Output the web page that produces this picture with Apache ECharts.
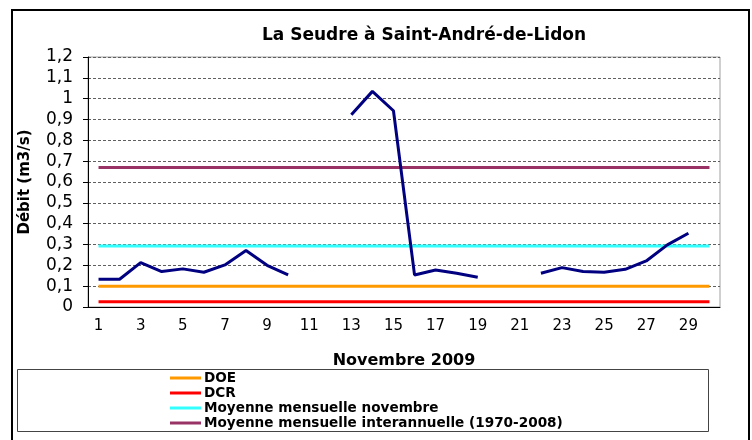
<!DOCTYPE html>
<html>
<head>
<meta charset="utf-8">
<script src="https://cdn.jsdelivr.net/npm/echarts@6/dist/echarts.min.js"></script>
<style>
  html, body { margin: 0; padding: 0; background: #fff; }
  #chart { width: 752px; height: 440px; }
</style>
</head>
<body>
<div id="chart"></div>
<script>
// jours de novembre 2009
var days = [];
for (var d = 1; d <= 30; d++) days.push(String(d));

// débit journalier (m3/s), null = pas de mesure
var debit = [0.133, 0.133, 0.213, 0.170, 0.183, 0.167, 0.202, 0.271, 0.200, 0.154,
             null, null, 0.923, 1.035, 0.942, 0.154, 0.178, 0.162, 0.143, null,
             null, 0.162, 0.189, 0.170, 0.167, 0.181, 0.221, 0.298, 0.354, null];

// seuils de référence
var doe = 0.1;
var dcr = 0.025;
var moyNov = 0.293;
var moyInter = 0.67;

function flat(v) {
  return days.map(function () { return v; });
}

var chart = echarts.init(document.getElementById('chart'));

var option = {
  animation: false,
  backgroundColor: '#fff',
  textStyle: { fontFamily: 'DejaVu Sans, Verdana, sans-serif' },
  title: {
    text: 'La Seudre à Saint-André-de-Lidon',
    left: 257,
    top: 22,
    textStyle: { fontSize: 17, fontWeight: 'bold', color: '#000', fontFamily: 'DejaVu Sans' }
  },
  graphic: [
    { // cadre extérieur
      type: 'rect', z: -10,
      shape: { x: 12, y: 10, width: 737, height: 450 },
      style: { fill: '#fff', stroke: '#000', lineWidth: 2 }
    },
    { // cadre de la légende
      type: 'rect', z: -5,
      shape: { x: 17.5, y: 369.5, width: 691, height: 62 },
      style: { fill: '#fff', stroke: '#444', lineWidth: 1 }
    }
  ],
  legend: {
    orient: 'vertical',
    left: 165,
    top: 366,
    itemGap: 1,
    itemWidth: 31,
    itemHeight: 3,
    icon: 'rect',
    data: ['DOE', 'DCR', 'Moyenne mensuelle novembre', 'Moyenne mensuelle interannuelle (1970-2008)'],
    textStyle: { fontSize: 13.6, fontWeight: 'bold', color: '#000', lineHeight: 14, padding: [0, 0, 0, -2], fontFamily: 'DejaVu Sans' }
  },
  grid: {
    left: 88, top: 57, right: 32, bottom: 133,
    show: true, borderColor: '#a0a0a0', borderWidth: 1
  },
  xAxis: {
    type: 'category',
    data: days,
    boundaryGap: true,
    name: 'Novembre 2009',
    nameLocation: 'middle',
    nameGap: 46,
    nameTextStyle: { fontSize: 16, fontWeight: 'bold', color: '#000', fontFamily: 'DejaVu Sans' },
    axisLine: { lineStyle: { color: '#000', width: 1 } },
    axisTick: { interval: 0, length: 5, lineStyle: { color: '#000' } },
    axisLabel: { interval: 1, fontSize: 15, color: '#000', margin: 12, fontFamily: 'DejaVu Sans' },
    splitLine: { show: false }
  },
  yAxis: {
    type: 'value',
    min: 0,
    max: 1.2,
    interval: 0.1,
    name: 'Débit (m3/s)',
    nameLocation: 'middle',
    nameGap: 55,
    nameTextStyle: { fontSize: 15, fontWeight: 'bold', color: '#000', fontFamily: 'DejaVu Sans' },
    axisLine: { show: true, lineStyle: { color: '#000', width: 1 } },
    axisTick: { show: true, length: 5, lineStyle: { color: '#000' } },
    axisLabel: {
      fontSize: 17, color: '#000', margin: 15, fontFamily: 'DejaVu Sans',
      formatter: function (v) { return String(+v.toFixed(1)).replace('.', ','); }
    },
    splitLine: { show: true, lineStyle: { color: '#606060', type: [3, 2], width: 1 } }
  },
  series: [
    {
      name: 'DCR', type: 'line', data: flat(dcr), symbol: 'none',
      lineStyle: { color: '#ff0000', width: 3 }, itemStyle: { color: '#ff0000' }
    },
    {
      name: 'DOE', type: 'line', data: flat(doe), symbol: 'none',
      lineStyle: { color: '#ff9900', width: 3 }, itemStyle: { color: '#ff9900' }
    },
    {
      name: 'Moyenne mensuelle novembre', type: 'line', data: flat(moyNov), symbol: 'none',
      lineStyle: { color: '#33ffff', width: 3 }, itemStyle: { color: '#33ffff' }
    },
    {
      name: 'Moyenne mensuelle interannuelle (1970-2008)', type: 'line', data: flat(moyInter), symbol: 'none',
      lineStyle: { color: '#993366', width: 3 }, itemStyle: { color: '#993366' }
    },
    {
      name: 'Débit', type: 'line', data: debit, symbol: 'none', connectNulls: false,
      lineStyle: { color: '#000080', width: 3 }, itemStyle: { color: '#000080' }, z: 5
    }
  ]
};

chart.setOption(option);
</script>
</body>
</html>
